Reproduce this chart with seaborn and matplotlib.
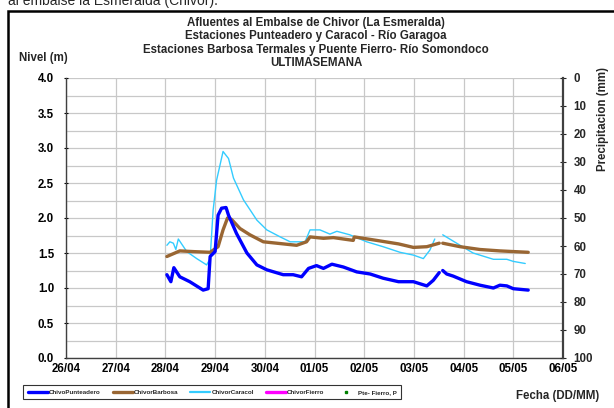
import numpy as np
import pandas as pd
import matplotlib
matplotlib.use("Agg")
import matplotlib.pyplot as plt
from matplotlib.lines import Line2D
from matplotlib.patches import Rectangle
import seaborn as sns

# ---------------- data (x = days since 26/04) ----------------
day_labels = ["26/04", "27/04", "28/04", "29/04", "30/04", "01/05",
              "02/05", "03/05", "04/05", "05/05", "06/05"]

punteadero_t = [2.03, 2.11, 2.17, 2.29, 2.49, 2.76, 2.86, 2.90, 3.00, 3.06, 3.13,
                3.22, 3.27, 3.43, 3.64, 3.84, 4.04, 4.37, 4.57, 4.74, 4.88, 5.04,
                5.18, 5.35, 5.58, 5.85, 6.12, 6.38, 6.69, 6.99, 7.26, 7.39, 7.51,
                7.545, 7.58, 7.66, 7.79, 8.06, 8.33, 8.60, 8.73, 8.87, 9.00, 9.30]
punteadero_v = [1.19, 1.09, 1.29, 1.16, 1.09, 0.97, 0.99, 1.45, 1.52, 2.04, 2.14,
                2.15, 2.04, 1.78, 1.50, 1.33, 1.26, 1.19, 1.19, 1.16, 1.28, 1.32,
                1.28, 1.34, 1.30, 1.23, 1.20, 1.14, 1.09, 1.09, 1.03, 1.11, 1.22,
                np.nan, 1.25, 1.20, 1.17, 1.09, 1.04, 1.00, 1.04, 1.03, 0.99, 0.97]

barbosa_t = [2.03, 2.29, 2.56, 2.90, 3.06, 3.16, 3.25, 3.33, 3.50, 3.70, 3.97,
             4.24, 4.64, 4.84, 4.91, 5.18, 5.38, 5.78, 5.80, 6.25, 6.69, 6.99,
             7.26, 7.51, 7.545, 7.58, 7.93, 8.33, 8.73, 9.30]
barbosa_v = [1.45, 1.53, 1.52, 1.51, 1.59, 1.83, 2.00, 1.98, 1.85, 1.76, 1.66,
             1.64, 1.61, 1.66, 1.73, 1.71, 1.72, 1.68, 1.73, 1.68, 1.63, 1.58,
             1.59, 1.64, np.nan, 1.64, 1.59, 1.55, 1.53, 1.51]

caracol_t = [2.03, 2.09, 2.16, 2.21, 2.26, 2.43, 2.63, 2.83, 2.90, 2.96, 3.03,
             3.16, 3.27, 3.37, 3.57, 3.84, 4.04, 4.31, 4.51, 4.81, 4.91, 5.11,
             5.31, 5.45, 5.71, 6.05, 6.38, 6.72, 6.99, 7.19, 7.32, 7.42, 7.50,
             7.58, 7.86, 8.19, 8.60, 8.87, 9.00, 9.24]
caracol_v = [1.61, 1.66, 1.64, 1.55, 1.70, 1.52, 1.42, 1.33, 1.42, 2.11, 2.54,
             2.95, 2.85, 2.57, 2.26, 1.97, 1.83, 1.73, 1.66, 1.66, 1.83, 1.83,
             1.77, 1.81, 1.76, 1.66, 1.59, 1.51, 1.47, 1.42, 1.54, 1.70, np.nan,
             1.76, 1.64, 1.50, 1.41, 1.41, 1.38, 1.35]

series_names = ["ChivoPunteadero", "ChivorBarbosa", "ChivorCaracol",
                "ChivorFierro", "Pte- Fierro, P"]
series_colors = ["#0000FF", "#996633", "#33CCFF", "#FF00FF", "#008000"]


def to_frame(t, v, name):
    df = pd.DataFrame({"t": t, "v": v})
    df["seg"] = df["v"].isna().cumsum()
    df = df.dropna()
    df["serie"] = name
    return df


df_p = to_frame(punteadero_t, punteadero_v, series_names[0])
df_b = to_frame(barbosa_t, barbosa_v, series_names[1])
df_c = to_frame(caracol_t, caracol_v, series_names[2])

# ---------------- figure ----------------
sns.set_style("white")
plt.rcParams["font.family"] = ["Liberation Sans", "DejaVu Sans"]
plt.rcParams["font.weight"] = "bold"

TS = 8.3  # text size

fig = plt.figure(figsize=(6.14, 4.08), dpi=100)
W, H = 614, 408
ax = fig.add_axes([66 / W, 1 - 358 / H, (563 - 66) / W, (358 - 78) / H])

for df, col, lw in [(df_c, series_colors[2], 1.0),
                    (df_b, series_colors[1], 2.4),
                    (df_p, series_colors[0], 2.4)]:
    sns.lineplot(data=df, x="t", y="v", units="seg", estimator=None,
                 sort=False, color=col, linewidth=lw, ax=ax, legend=False)

ax.set_xlim(0, 10)
ax.set_ylim(0, 4)
ax.set_xticks(range(11))
ax.set_xticklabels(day_labels)
ax.set_yticks(np.arange(0, 4.01, 0.5))
ax.set_yticklabels([f"{v:.1f}" for v in np.arange(0, 4.01, 0.5)])
ax.set_yticks(np.arange(0, 4.01, 0.25), minor=True)
ax.grid(True, which="both", axis="y", color="#C8C8C8", linewidth=0.9)
ax.grid(True, which="major", axis="x", color="#C8C8C8", linewidth=0.9)
ax.set_axisbelow(True)
ax.set_xlabel("")
ax.set_ylabel("")
for s in ["top", "right"]:
    ax.spines[s].set_visible(False)
for s in ["left", "bottom"]:
    ax.spines[s].set_color("#404040")
    ax.spines[s].set_linewidth(1.0)
ax.tick_params(axis="x", which="major", labelsize=TS, colors="black",
               length=3, width=0.8, direction="inout", pad=2)
ax.tick_params(axis="y", which="major", labelsize=TS, colors="black",
               length=3, width=0.8, direction="inout", pad=7)
ax.tick_params(axis="y", which="minor", length=0)
for lab in ax.get_xticklabels() + ax.get_yticklabels():
    lab.set_fontweight("bold")

ax2 = ax.twinx()
ax2.set_ylim(100, 0)
ax2.set_yticks(range(0, 101, 10))
ax2.tick_params(axis="y", labelsize=TS, length=5, width=0.8,
                direction="inout", pad=5)
for lab in ax2.get_yticklabels():
    lab.set_fontweight("bold")
for s in ["top", "left", "bottom"]:
    ax2.spines[s].set_visible(False)
ax2.spines["right"].set_color("#404040")
ax2.spines["right"].set_linewidth(1.6)
ax2.grid(False)

# ---------------- texts ----------------
titles = ["Afluentes al Embalse de Chivor (La Esmeralda)",
          "Estaciones Punteadero y Caracol - Río Garagoa",
          "Estaciones Barbosa Termales y Puente Fierro- Río Somondoco",
          "ULTIMASEMANA"]
for i, t in enumerate(titles):
    fig.text(316 / W, 1 - (23 + 13.5 * i) / H, t, ha="center", va="center",
             fontsize=TS, fontweight="bold")

fig.text(19 / W, 1 - 58 / H, "Nivel (m)", ha="left", va="center",
         fontsize=TS, fontweight="bold")
fig.text(603 / W, 1 - 119 / H, "Precipitacion (mm)", ha="center", va="center",
         rotation=90, fontsize=TS, fontweight="bold")
fig.text(558 / W, 1 - 396 / H, "Fecha (DD/MM)", ha="center", va="center",
         fontsize=TS, fontweight="bold")

# cropped document text above the chart frame
fig.text(8 / W, 1 - 5.5 / H, "al embalse la Esmeralda (Chivor).", ha="left",
         va="baseline", fontsize=10, fontweight="normal")

# chart frame
fig.patches.append(Rectangle((8 / W, -0.2), 1.2, 1 - 11 / H + 0.2,
                             transform=fig.transFigure, fill=False,
                             edgecolor="black", linewidth=1.8))

# legend
handles = [Line2D([0], [0], color=series_colors[0], lw=2.4),
           Line2D([0], [0], color=series_colors[1], lw=2.4),
           Line2D([0], [0], color=series_colors[2], lw=1.6),
           Line2D([0], [0], color=series_colors[3], lw=2.4),
           Line2D([0], [0], color=series_colors[4], lw=0, marker="s",
                  markersize=1.5)]
leg = fig.legend(handles, series_names, loc="center",
                 bbox_to_anchor=(212 / W, 1 - 392 / H), ncol=5,
                 frameon=True, fancybox=False, edgecolor="black",
                 prop={"size": 4.5, "weight": "bold"}, handlelength=3.2,
                 handletextpad=0.2, columnspacing=1.9, borderpad=0.7)
leg.get_frame().set_linewidth(0.8)

fig.savefig("out.png", dpi=100, facecolor="white")
